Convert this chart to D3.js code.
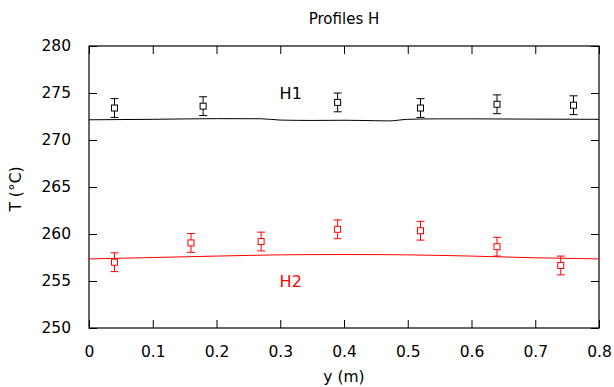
<!DOCTYPE html>
<html><head><meta charset="utf-8">
<script src="https://cdn.jsdelivr.net/npm/d3@7"></script>
<style>body{margin:0;background:#fff;} svg{display:block;font-family:"DejaVu Sans",sans-serif;}</style>
</head><body>
<svg id="c" width="614" height="387"></svg>
<script>
const title = "Profiles H";
const xLabel = "y (m)";
const yLabel = "T (°C)";
const xTicks = [0, 0.1, 0.2, 0.3, 0.4, 0.5, 0.6, 0.7, 0.8];
const yTicks = [250, 255, 260, 265, 270, 275, 280];

const h1PointsX = [0.04, 0.179, 0.39, 0.52, 0.64, 0.76];
const h1PointsT = [273.4, 273.6, 274.0, 273.4, 273.8, 273.7];
const h1Err = [1, 1, 1, 1, 1, 1];
const h1LineX = [0, 0.1, 0.2, 0.27, 0.3, 0.35, 0.4, 0.45, 0.47, 0.5, 0.55, 0.6, 0.7, 0.8];
const h1LineT = [272.15, 272.2, 272.27, 272.26, 272.12, 272.08, 272.1, 272.05, 272.03, 272.2, 272.25, 272.25, 272.22, 272.2];

const h2PointsX = [0.04, 0.16, 0.27, 0.39, 0.52, 0.64, 0.74];
const h2PointsT = [257.0, 259.05, 259.2, 260.5, 260.35, 258.65, 256.65];
const h2Err = [1, 1, 1, 1, 1, 1, 1];
const h2LineX = [0, 0.1, 0.2, 0.3, 0.4, 0.5, 0.6, 0.7, 0.8];
const h2LineT = [257.35, 257.5, 257.65, 257.78, 257.82, 257.78, 257.65, 257.47, 257.35];

const series = [
  {name: "H1", color: "#000000", px: h1PointsX, pt: h1PointsT, err: h1Err, lx: h1LineX, lt: h1LineT, labelX: 0.299, labelT: 274.95},
  {name: "H2", color: "#ff0000", px: h2PointsX, pt: h2PointsT, err: h2Err, lx: h2LineX, lt: h2LineT, labelX: 0.299, labelT: 254.95}
];

const svg = d3.select("#c");
const L = 89, R = 599, T = 46, B = 328;
const x = d3.scaleLinear().domain([0, 0.8]).range([L, R]);
const y = d3.scaleLinear().domain([250, 280]).range([B, T]);
const tl = 8;

svg.append("rect").attr("x", L).attr("y", T).attr("width", R - L).attr("height", B - T)
  .attr("fill", "none").attr("stroke", "#000").attr("stroke-width", 1.2);

const fmtX = d => d === 0 ? "0" : d3.format(".1f")(d);
const bx = svg.append("g").attr("transform", `translate(0,${B})`)
  .call(d3.axisBottom(x).tickValues(xTicks).tickSize(-tl).tickPadding(tl + 10).tickFormat(fmtX));
const tx = svg.append("g").attr("transform", `translate(0,${T})`)
  .call(d3.axisTop(x).tickValues(xTicks).tickSize(-tl).tickFormat(""));
const ly = svg.append("g").attr("transform", `translate(${L},0)`)
  .call(d3.axisLeft(y).tickValues(yTicks).tickSize(-tl).tickPadding(tl + 10).tickFormat(d3.format("d")));
const ry = svg.append("g").attr("transform", `translate(${R},0)`)
  .call(d3.axisRight(y).tickValues(yTicks).tickSize(-tl).tickFormat(""));
[bx, tx, ly, ry].forEach(g => {
  g.select(".domain").remove();
  g.selectAll("line").attr("stroke", "#000").attr("stroke-width", 1);
  g.selectAll("text").attr("font-size", 15.5).attr("fill", "#000").attr("font-family", "DejaVu Sans");
});

const line = d3.line().x(d => x(d[0])).y(d => y(d[1])).curve(d3.curveMonotoneX);

series.forEach(s => {
  const g = svg.append("g");
  g.append("path").datum(s.lx.map((v, i) => [v, s.lt[i]]))
    .attr("d", line).attr("fill", "none").attr("stroke", s.color).attr("stroke-width", 1);
  const pts = s.px.map((v, i) => ({x: v, t: s.pt[i], e: s.err[i]}));
  const pg = g.selectAll("g.pt").data(pts).enter().append("g");
  pg.append("line").attr("x1", d => x(d.x)).attr("x2", d => x(d.x))
    .attr("y1", d => y(d.t + d.e)).attr("y2", d => y(d.t - d.e)).attr("stroke", s.color);
  pg.append("line").attr("x1", d => x(d.x) - 4).attr("x2", d => x(d.x) + 4)
    .attr("y1", d => y(d.t + d.e)).attr("y2", d => y(d.t + d.e)).attr("stroke", s.color);
  pg.append("line").attr("x1", d => x(d.x) - 4).attr("x2", d => x(d.x) + 4)
    .attr("y1", d => y(d.t - d.e)).attr("y2", d => y(d.t - d.e)).attr("stroke", s.color);
  pg.append("rect").attr("x", d => x(d.x) - 3).attr("y", d => y(d.t) - 3)
    .attr("width", 6).attr("height", 6).attr("fill", "#fff").attr("stroke", s.color);
  g.append("text").attr("x", x(s.labelX)).attr("y", y(s.labelT)).attr("dy", "0.36em")
    .attr("fill", s.color).attr("font-size", 16).text(s.name);
});

svg.append("text").attr("x", 344).attr("y", 24).attr("text-anchor", "middle")
  .attr("font-size", 15).text(title);
svg.append("text").attr("x", 344).attr("y", 382).attr("text-anchor", "middle")
  .attr("font-size", 15.5).text(xLabel);
svg.append("text").attr("transform", "translate(21,189) rotate(-90)").attr("text-anchor", "middle")
  .attr("font-size", 15.5).text(yLabel);
</script>
</body></html>
